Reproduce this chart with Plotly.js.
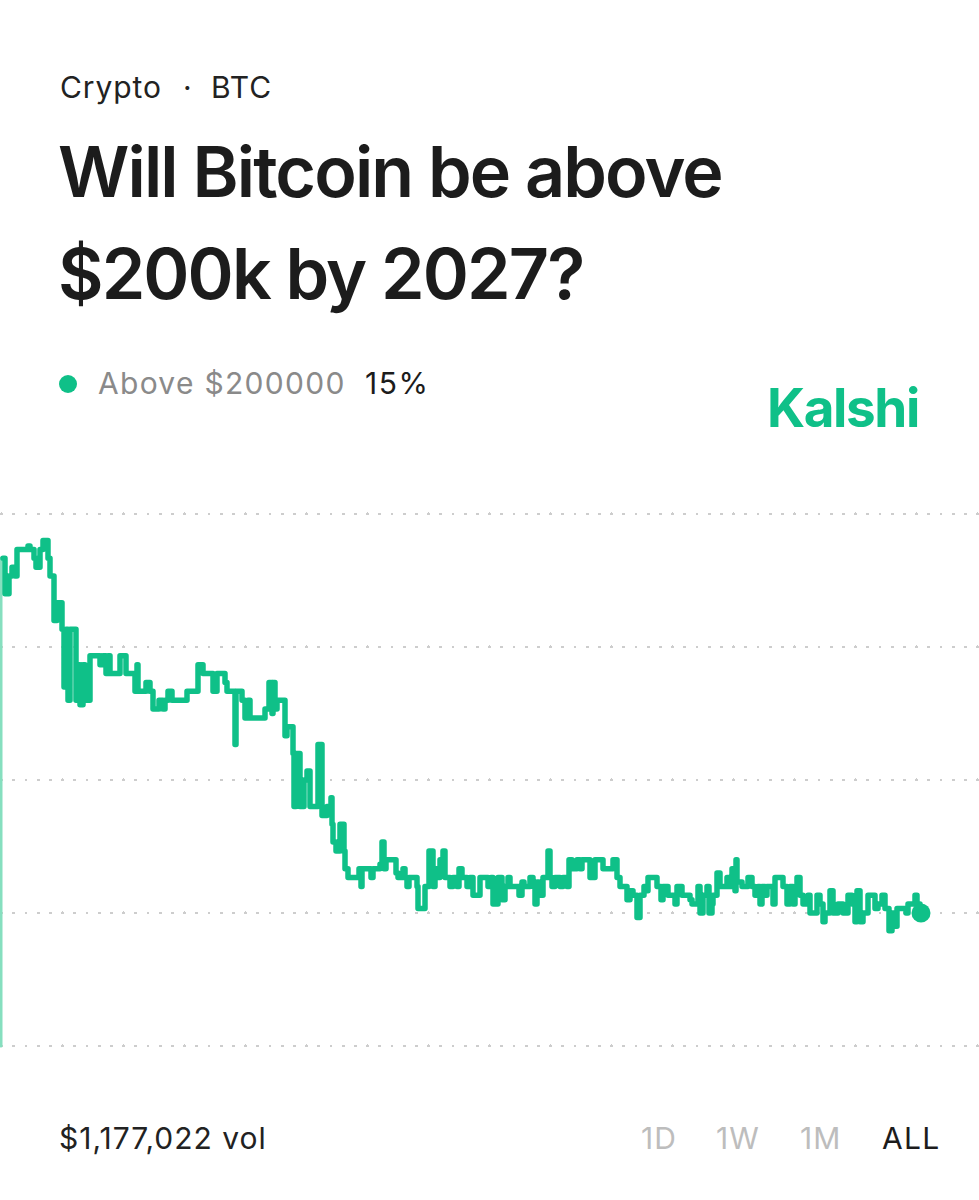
<!DOCTYPE html>
<html><head><meta charset="utf-8">
<script src="https://cdn.plot.ly/plotly-3.0.1.min.js"></script>
<style>html,body{margin:0;padding:0;background:#fff}#c{width:979px;height:1200px}
.js-line{stroke-linejoin:round;stroke-linecap:round}
.ygrid{stroke-linecap:round;stroke-dashoffset:-1.5px}
</style>
</head><body><div id="c"></div>
<script>
const timeIndex=[3,5,9,12,15,17,28,30,34,36,40,43,48,50,54,57,62,64,66,68,70,76,78,80,83,85,90,98,100,103,106,108,110,120,126,135,137,138,146,150,153,159,163,165,168,172,187,198,203,213,217,225,227,235,236,242,245,248,250,265,269,272,273,275,277,285,287,293,294,296,300,304,307,310,318,322,327,331,332,333,336,340,344,345,348,359,361,362,371,373,380,382,384,386,396,398,403,405,407,409,417,418,425,429,433,435,437,440,443,445,450,453,457,459,462,467,470,473,480,488,491,493,498,502,505,508,510,519,522,524,530,533,535,537,539,543,548,550,552,555,560,563,567,569,572,577,580,582,590,595,603,613,617,620,627,630,633,637,640,644,647,648,657,661,663,668,675,677,682,690,692,698,700,703,707,709,712,713,717,720,727,729,732,735,736,737,742,748,752,755,758,760,762,765,767,773,775,783,787,790,793,795,797,800,803,808,810,817,820,823,825,830,833,838,843,848,852,855,857,860,863,868,875,878,882,885,889,892,895,897,906,908,915,917,920,921];
const abovePct=[55,51,53,54,53,56,56.4,56,55,54,56,57,55,53,48,50,47,40.5,47,39,47,39,43,38.5,43,39,44,44,43,44,42,44,42,44,42,40,43,40,41,40,38,39,38,39,40,39,40,43,42,40,42,41,40,34,40,39,37,39,37,38,41,37.5,41,38,39,35,36,33,27,33,27,30,31,27,34,26,27,28,25,23,22,25,22,20,19,20,18,20,19,20,20.5,23,20,21,19.5,19,20,19,18,19,18,15.5,18,22,18,20,19,21,22,19,18,19,18,20,19,18,19,17,19,18,19,16,19,16.5,18,19,18,17,18.5,18,19,18,16,18.5,17,19,22,19,18,19,18,19,18,21,20,21,20,21,19,21,20,21,19,18,16.5,17.5,17,14.5,17,18,17.5,19,18,16.5,18,17,16,18,17,16.5,16,18,15,17,18,15,16,17,19.5,18,19,18,20,17.5,21,18.5,18,19,18,17,18,16,18,17,18,16,19,18,16,18,16,18,19,17,16,17,15,17,16,14,15,17.5,15,16,15,17,16,14,17.5,14,15,17,15.5,16,17,15.5,13,15,13.5,15.5,15,16,17,16,15,15];
const openTime=[1,1];
const openPct=[0,55];
const gridTicks=[0,15,30,45,60];
const xTicks=[];
const green='#0fc088';
const head='Inter, "Noto Sans", sans-serif';
function txt(text,x,y,size,color,weight,anchor){
  return {text:text,x:x/979,y:1-y/1200,xref:'paper',yref:'paper',xanchor:anchor||'left',yanchor:'middle',
    showarrow:false,borderpad:0,font:{family:head,size:size,color:color,weight:weight||400}};
}
const traces=[
 {x:openTime,y:openPct,mode:'lines',line:{color:'#86dfbf',width:3},hoverinfo:'skip',showlegend:false},
 {x:timeIndex,y:abovePct,mode:'lines',line:{color:green,width:5.5,shape:'hv'},showlegend:false},
 {x:[timeIndex[timeIndex.length-1]],y:[abovePct[abovePct.length-1]],mode:'markers',marker:{color:green,size:19},showlegend:false}
];
const layout={
 width:979,height:1200,margin:{l:0,r:0,t:0,b:0},paper_bgcolor:'#fff',plot_bgcolor:'#fff',showlegend:false,
 xaxis:{range:[0,979],showgrid:false,zeroline:false,tickvals:xTicks,showticklabels:false,showline:false},
 yaxis:{range:[-17.37,117.97],tickvals:gridTicks,showticklabels:false,zeroline:false,showline:false,
   gridcolor:'#cdcdcd',gridwidth:3,griddash:'0.1px,12.1px'},
 shapes:[{type:'circle',xref:'paper',yref:'paper',x0:59/979,x1:77/979,y0:1-393/1200,y1:1-375/1200,fillcolor:green,line:{width:0}}],
 annotations:[
  txt('Crypto',59,87,30,'#222'),
  txt('·',182,87,30,'#222'),
  txt('BTC',210,87,30,'#222'),
  txt('Will Bitcoin be above',57,172,70,'#1c1c1c',600),
  txt('$200k by 2027?',57,273,70,'#1c1c1c',600),
  txt('Above $200000',97,383,30,'#8a8a8a'),
  txt('15%',364,383,30,'#1c1c1c'),
  txt('Kalshi',766,408,53,green,700),
  txt('$1,177,022 vol',58,1138,30,'#222'),
  txt('1D',640,1138,30,'#bdbdbd'),
  txt('1W',715,1138,30,'#bdbdbd'),
  txt('1M',799,1138,30,'#bdbdbd'),
  txt('ALL',881,1138,30,'#1c1c1c')
 ]
};
const spacing=[0.9,0,0.9,-1.9,-1.9,1.3,1.5,-1.4,1,1,1,1,1.3];
Plotly.newPlot('c',traces,layout,{displayModeBar:false,staticPlot:true}).then(function(){
  document.querySelectorAll('#c .annotation').forEach(function(a){
    const i=+a.getAttribute('data-index');
    const t=a.querySelector('text');
    if(t){
      const left=t.getBBox().x;
      t.setAttribute('x',left);
      t.style.textAnchor='start';
      t.setAttribute('text-anchor','start');
      t.style.letterSpacing=spacing[i]+'px';
    }
  });
});
</script></body></html>
